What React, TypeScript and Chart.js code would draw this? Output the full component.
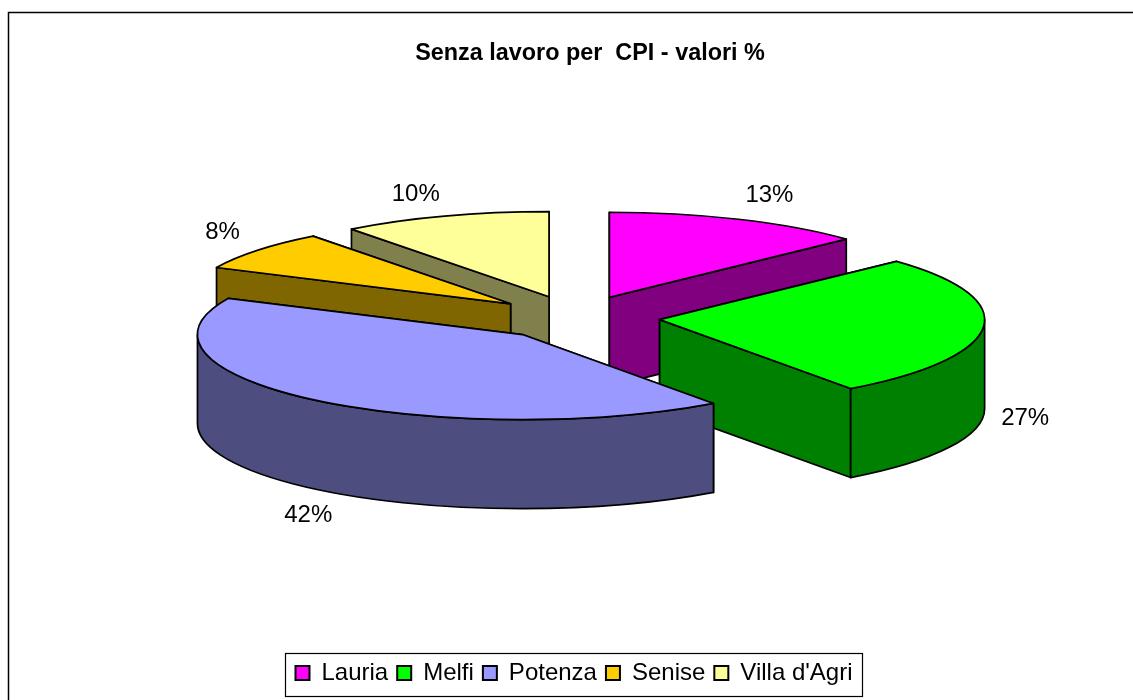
import React, { useEffect, useRef } from "react";
import { Chart, registerables } from "chart.js";

Chart.register(...registerables);

const categories = ["Lauria", "Melfi", "Potenza", "Senise", "Villa d'Agri"];
const shares = [13, 27, 42, 7.6, 10.4];
const topColours = ["#FF00FF", "#00FF00", "#9999FF", "#FFCC00", "#FFFF99"];
const sideColours = ["#800080", "#008000", "#4D4D80", "#806600", "#80804D"];
const titleText = "Senza lavoro per  CPI - valori %";

const FONT = "'Liberation Sans', Arial, sans-serif";
const RADIUS = 325;
const SQUASH = 0.262;
const DEPTH = 89;
const EXPLODE = 84;
const CENTRE_X_SHIFT = 2;
const CENTRE_Y = 317.6;
const TITLE_SHIFT = 16;
const PAINT_ORDER = [4, 3, 0, 1, 2];
const LABEL_NUDGE = [
  [31, -24],
  [42, 91],
  [-7, 115],
  [-35, -18],
  [-29, -22],
];

const pie3d = {
  id: "pie3d",
  afterLayout(chart: any) {
    chart.titleBlock.left += TITLE_SHIFT;
    chart.titleBlock.right += TITLE_SHIFT;
  },
  beforeDraw(chart: any) {
    const ctx = chart.ctx;
    ctx.save();
    ctx.strokeStyle = "#000";
    ctx.lineWidth = 1.5;
    ctx.beginPath();
    ctx.moveTo(8.5, 700);
    ctx.lineTo(8.5, 12.5);
    ctx.lineTo(1133, 12.5);
    ctx.stroke();
    ctx.restore();
  },
  beforeDatasetsDraw(chart: any) {
    const ctx = chart.ctx;
    const arcs = chart.getDatasetMeta(0).data;
    const geo = (arc: any) => {
      const p = arc.getProps(["x", "startAngle", "endAngle", "outerRadius"], true);
      const mid = (p.startAngle + p.endAngle) / 2;
      const rx = p.outerRadius;
      return {
        cx: p.x + CENTRE_X_SHIFT + Math.cos(mid) * EXPLODE,
        cy: CENTRE_Y + Math.sin(mid) * EXPLODE * SQUASH,
        s: p.startAngle,
        e: p.endAngle,
        mid,
        rx,
        ry: rx * SQUASH,
      };
    };
    ctx.save();
    ctx.lineWidth = 1.7;
    ctx.strokeStyle = "#000";
    ctx.lineJoin = "round";
    for (const i of PAINT_ORDER) {
      const g = geo(arcs[i]);
      const pt = (a: number) => [g.cx + g.rx * Math.cos(a), g.cy + g.ry * Math.sin(a)];
      ctx.fillStyle = sideColours[i];
      const walls = [g.s, g.e].sort((a, b) => pt(a)[1] - pt(b)[1]);
      for (const a of walls) {
        const [x, y] = pt(a);
        ctx.beginPath();
        ctx.moveTo(g.cx, g.cy);
        ctx.lineTo(x, y);
        ctx.lineTo(x, y + DEPTH);
        ctx.lineTo(g.cx, g.cy + DEPTH);
        ctx.closePath();
        ctx.fill();
        ctx.stroke();
      }
      const a0 = Math.max(g.s, 0);
      const a1 = Math.min(g.e, Math.PI);
      if (a1 > a0) {
        ctx.beginPath();
        ctx.ellipse(g.cx, g.cy, g.rx, g.ry, 0, a0, a1);
        ctx.ellipse(g.cx, g.cy + DEPTH, g.rx, g.ry, 0, a1, a0, true);
        ctx.closePath();
        ctx.fill();
        ctx.stroke();
      }
      ctx.fillStyle = topColours[i];
      ctx.beginPath();
      ctx.moveTo(g.cx, g.cy);
      ctx.ellipse(g.cx, g.cy, g.rx, g.ry, 0, g.s, g.e);
      ctx.closePath();
      ctx.fill();
      ctx.stroke();
    }
    ctx.fillStyle = "#000";
    ctx.font = `24px ${FONT}`;
    ctx.textAlign = "center";
    ctx.textBaseline = "middle";
    shares.forEach((v, i) => {
      const g = geo(arcs[i]);
      const x = g.cx + g.rx * Math.cos(g.mid) + LABEL_NUDGE[i][0];
      const y = g.cy + g.ry * Math.sin(g.mid) + LABEL_NUDGE[i][1];
      ctx.fillText(`${Math.round(v)}%`, x, y);
    });
    ctx.restore();
    return false;
  },
  afterDraw(chart: any) {
    const boxes = chart.legend.legendHitBoxes;
    const left = Math.min(...boxes.map((b: any) => b.left));
    const right = Math.max(...boxes.map((b: any) => b.left + b.width));
    const top = Math.min(...boxes.map((b: any) => b.top));
    const bottom = Math.max(...boxes.map((b: any) => b.top + b.height));
    const ctx = chart.ctx;
    ctx.save();
    ctx.strokeStyle = "#000";
    ctx.lineWidth = 1.2;
    ctx.strokeRect(Math.round(left - 10) + 0.5, Math.round(top - 8) + 0.5, Math.round(right - left + 20), Math.round(bottom - top + 19));
    ctx.restore();
  },
};

export default function App() {
  const ref = useRef<HTMLCanvasElement | null>(null);
  useEffect(() => {
    const chart = new Chart(ref.current as HTMLCanvasElement, {
      type: "pie",
      data: {
        labels: categories,
        datasets: [
          {
            data: shares,
            backgroundColor: topColours,
            borderColor: "#000",
            borderWidth: 2,
            clip: false,
          } as any,
        ],
      },
      options: {
        animation: false,
        responsive: false,
        radius: RADIUS,
        layout: { padding: { left: 15, bottom: 5 } },
        plugins: {
          tooltip: { enabled: false },
          title: {
            display: true,
            text: titleText,
            color: "#000",
            font: { family: FONT, size: 23.4, weight: "bold" },
            padding: { top: 40, bottom: 10 },
          },
          legend: {
            position: "bottom",
            labels: {
              color: "#000",
              boxWidth: 14,
              boxHeight: 14,
              padding: 9,
              font: { family: FONT, size: 24 },
            },
          },
        },
      } as any,
      plugins: [pie3d as any],
    });
    return () => chart.destroy();
  }, []);
  return (
    <canvas
      ref={ref}
      width={1133}
      height={700}
      style={{ position: "fixed", left: 0, top: 0, display: "block", background: "#fff" }}
    />
  );
}
